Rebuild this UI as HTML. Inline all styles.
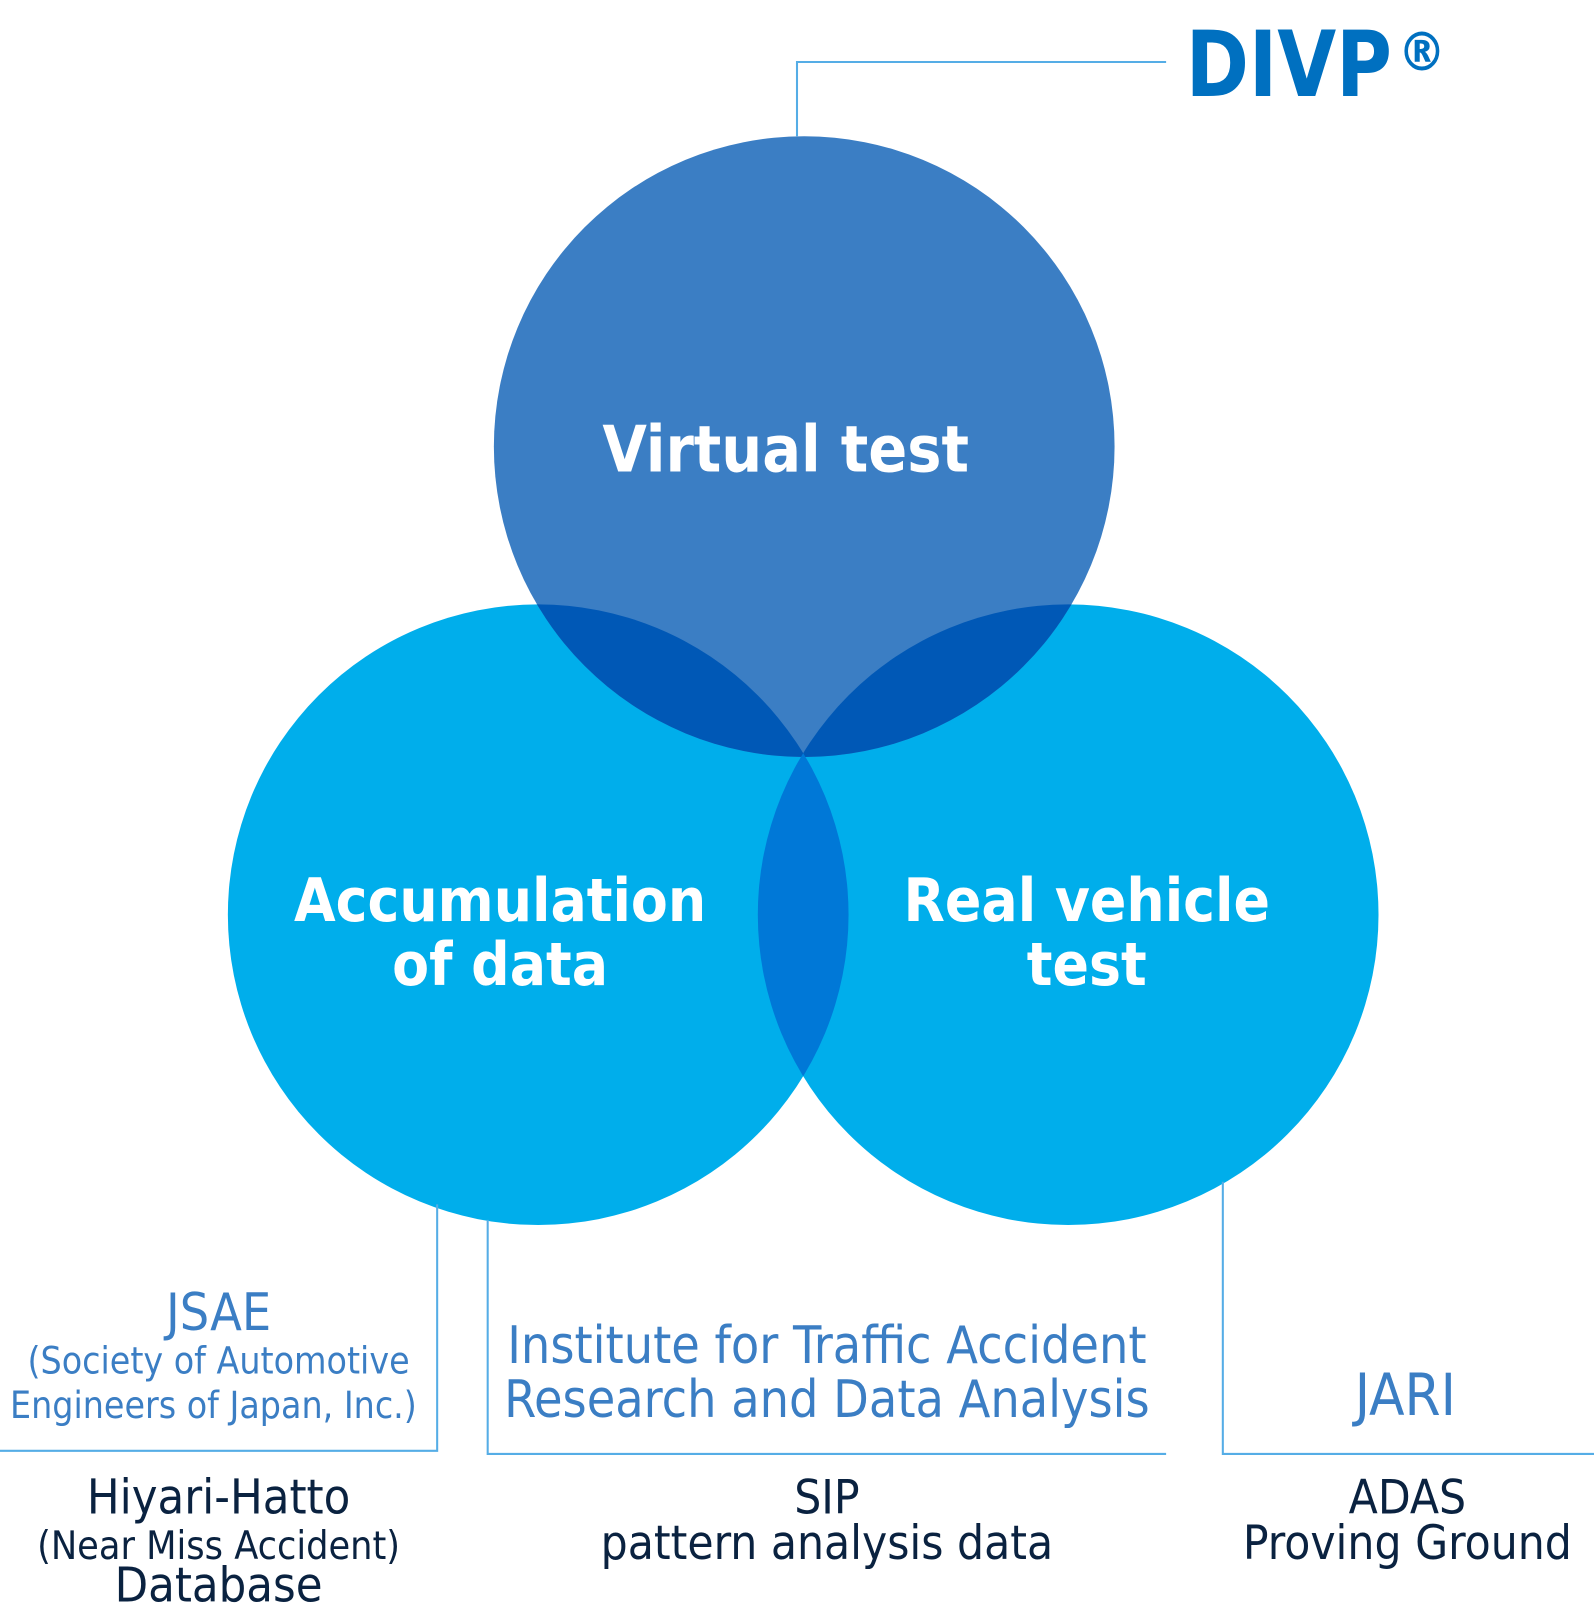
<!DOCTYPE html>
<html><head><meta charset="utf-8"><style>
html,body{margin:0;padding:0;background:#fff;}
svg{display:block;}
text{font-family:"DejaVu Sans Condensed","DejaVu Sans","Liberation Sans",sans-serif;font-stretch:condensed;}
</style></head><body>
<svg width="1594" height="1617" viewBox="0 0 1546 1568" xmlns="http://www.w3.org/2000/svg">
<defs>
<clipPath id="cT"><circle cx="780" cy="433" r="301"/></clipPath>
<clipPath id="cL"><circle cx="522" cy="887" r="301"/></clipPath>
</defs>
<circle cx="522" cy="887" r="301" fill="#00aeeb"/>
<circle cx="1036" cy="887" r="301" fill="#00aeeb"/>
<circle cx="780" cy="433" r="301" fill="#3b7ec4"/>
<g clip-path="url(#cT)">
<circle cx="522" cy="887" r="301" fill="#0058b6"/>
<circle cx="1036" cy="887" r="301" fill="#0058b6"/>
</g>
<g clip-path="url(#cL)">
<circle cx="1036" cy="887" r="301" fill="#0078d7"/>
</g>
<g stroke="#55ade6" stroke-width="2" fill="none">
<polyline points="773,132 773,60 1131,60"/>
<polyline points="424,1168 424,1407 0,1407"/>
<polyline points="473,1183 473,1410 1131,1410"/>
<polyline points="1186,1146 1186,1410 1546,1410"/>
</g>
<text x="1150" y="93" font-size="88" font-weight="bold" fill="#0070c0" textLength="200" lengthAdjust="spacingAndGlyphs">DIVP</text>
<text x="1379" y="68" font-size="52" font-weight="bold" fill="#0070c0" text-anchor="middle">®</text>
<g fill="#fff" font-weight="bold" text-anchor="middle">
<text x="762" y="457" font-size="62">Virtual test</text>
<text x="485" y="893" font-size="58">Accumulation</text>
<text x="485" y="955" font-size="58">of data</text>
<text x="1054" y="893" font-size="58">Real vehicle</text>
<text x="1054" y="955" font-size="58">test</text>
</g>
<g fill="#3b7ec4" text-anchor="middle">
<text x="212" y="1290" font-size="50">JSAE</text>
<text x="212" y="1332" font-size="36">(Society of Automotive</text>
<text x="207" y="1375" font-size="36">Engineers of Japan, Inc.)</text>
<text x="802" y="1322" font-size="50">Institute for Traffic Accident</text>
<text x="802" y="1374" font-size="50">Research and Data Analysis</text>
<text x="1363" y="1372" font-size="56">JARI</text>
</g>
<g fill="#0a2240" text-anchor="middle">
<text x="212" y="1468" font-size="47">Hiyari-Hatto</text>
<text x="212" y="1512" font-size="38">(Near Miss Accident)</text>
<text x="212" y="1553" font-size="47">Database</text>
<text x="802" y="1468" font-size="46">SIP</text>
<text x="802" y="1512" font-size="46">pattern analysis data</text>
<text x="1365" y="1468" font-size="46">ADAS</text>
<text x="1365" y="1512" font-size="46">Proving Ground</text>
</g>
</svg>
</body></html>
